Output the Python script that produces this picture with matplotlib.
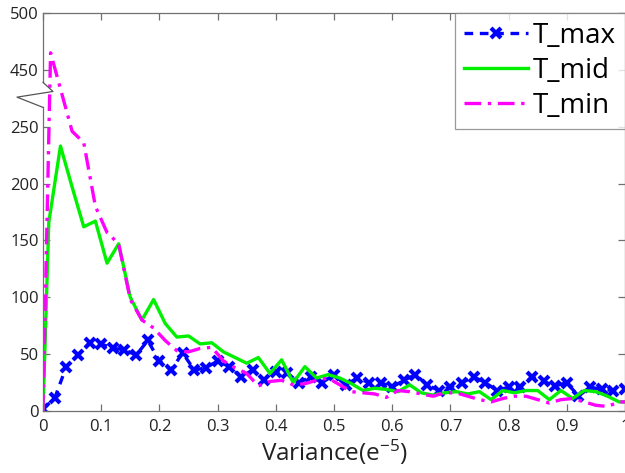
import numpy as np
import matplotlib
matplotlib.use('Agg')
import matplotlib.pyplot as plt
from matplotlib.lines import Line2D

plt.rcParams['font.family'] = ['Open Sans', 'DejaVu Sans']
plt.rcParams['mathtext.default'] = 'regular'

# ---------------- data ----------------
x_max = np.round(np.arange(0, 101, 2) / 100, 2)
t_max = [2, 11, 39, 49, 60, 59, 55, 54, 49, 62,
         44, 36, 51, 36, 38, 44, 39, 30, 36, 27,
         34, 33, 25, 30, 25, 32, 23, 29, 25, 25,
         21, 27, 32, 23, 18, 21, 25, 30, 25, 18,
         21, 21, 30, 26, 22, 25, 13, 21, 19, 18, 19]

x_mid = np.concatenate([[0.0, 0.01], np.round(np.arange(3, 100, 2) / 100, 2), [1.0]])
t_mid = [0, 166,
         233, 197, 162, 167, 130, 147, 100, 80, 98, 77,
         65, 66, 59, 60, 52, 47, 42, 47, 33, 45,
         25, 39, 29, 32, 29, 24, 18, 20, 19, 17,
         23, 16, 14, 16, 17, 15, 17, 10, 18, 16,
         18, 18, 10, 18, 11, 18, 17, 13, 8,
         8]

x_min = np.concatenate([[0.0, 0.013, 0.02], np.round(np.arange(5, 100, 2) / 100, 2), [1.0]])
t_min = [0, 465, 452,
         246, 236, 180, 157, 147, 98, 80, 73, 62,
         53, 52, 55, 56, 44, 38, 33, 22, 26, 27,
         23, 24, 27, 29, 23, 17, 16, 15, 12, 18,
         17, 15, 13, 16, 16, 13, 10, 8, 11, 13,
         13, 10, 7, 10, 11, 8, 5, 4, 8,
         8]

series_labels = ['T_max', 'T_mid', 'T_min']
y_ticks = [0, 50, 100, 150, 200, 250, 450, 500]
x_ticks = [0, 0.1, 0.2, 0.3, 0.4, 0.5, 0.6, 0.7, 0.8, 0.9, 1.0]
x_tick_labels = ['0', '0.1', '0.2', '0.3', '0.4', '0.5', '0.6', '0.7', '0.8', '0.9', '1']

# ---------------- broken y scale ----------------
LO, HI, GAP = 270, 440, 20
_src = [-1e4, LO, HI, 1e4]
_dst = [-1e4, LO, LO + GAP, 1e4 - (HI - LO - GAP)]

def fwd(y):
    return np.interp(y, _src, _dst)

def inv(t):
    return np.interp(t, _dst, _src)

fig = plt.figure(figsize=(6.25, 4.73), dpi=100)
ax = fig.add_axes([43 / 625, 62 / 473, 582 / 625, 398 / 473])
ax.set_yscale('function', functions=(fwd, inv))

ax.plot(x_max, t_max, color='#0000ff', ls='--', lw=2.4, marker='x', ms=7.5, mew=3.0,
        dashes=(2.6, 2.0), label=series_labels[0])
ax.plot(x_mid, t_mid, color='#00f000', ls='-', lw=2.4, label=series_labels[1])
ax.plot(x_min, t_min, color='#ff00ff', ls='-.', lw=2.4, dashes=(5, 2, 1, 2),
        label=series_labels[2])

ax.set_xlim(0, 1)
ax.set_ylim(0, 500)
ax.set_xticks(x_ticks)
ax.set_xticklabels(x_tick_labels)
ax.set_yticks(y_ticks)
ax.set_yticklabels([str(v) for v in y_ticks])
ax.minorticks_off()

spine_col = '#707070'
for s in ax.spines.values():
    s.set_color(spine_col)
    s.set_linewidth(0.9)
ax.spines['left'].set_visible(False)

ax.tick_params(axis='both', which='major', direction='in', top=True, right=True,
               length=5, width=0.9, color=spine_col, labelsize=12,
               labelcolor='#222222')
ax.tick_params(axis='x', pad=6)
ax.tick_params(axis='y', pad=3)

# left spine with break zigzag
tr = ax.get_yaxis_transform()
b_low = inv(267.0)
b_top = inv(289.0)
ax.add_line(Line2D([0, 0], [0, b_low], transform=tr, color=spine_col, lw=0.9, clip_on=False))
ax.add_line(Line2D([0, 0], [b_top, 500], transform=tr, color=spine_col, lw=0.9, clip_on=False))
ax.add_line(Line2D([0, 10 / 582, -26 / 582, 0],
                   [b_top, inv(281.0), inv(276.0), b_low],
                   transform=tr, color='#555555', lw=0.9, clip_on=False))

ax.set_xlabel('Variance(e$^{-5}$)', fontsize=17.5, color='#222222', labelpad=2)

leg = ax.legend(loc='upper right', bbox_to_anchor=(1.0, 1.0), borderaxespad=0.0,
                fontsize=20, frameon=True, fancybox=False, handlelength=2.3,
                handletextpad=0.2, labelspacing=0.25, borderpad=0.32)
leg.get_frame().set_edgecolor('#808080')
leg.get_frame().set_linewidth(0.9)

fig.savefig('out.png', dpi=100)
